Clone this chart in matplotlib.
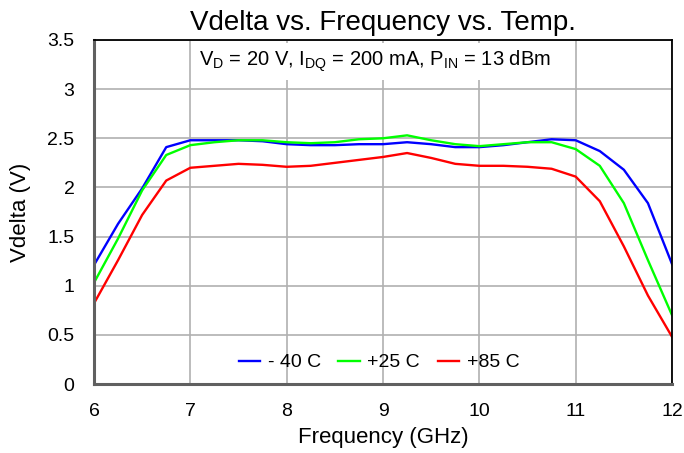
import numpy as np
import matplotlib
matplotlib.use('Agg')
import matplotlib.pyplot as plt

plt.rcParams['font.family'] = ['Liberation Sans', 'DejaVu Sans']
plt.rcParams['mathtext.fontset'] = 'custom'
plt.rcParams['mathtext.rm'] = 'Liberation Sans'

freq = [6, 6.25, 6.5, 6.75, 7, 7.25, 7.5, 7.75, 8, 8.25, 8.5, 8.75, 9,
        9.25, 9.5, 9.75, 10, 10.25, 10.5, 10.75, 11, 11.25, 11.5, 11.75, 12]

vd_m40 = [1.21, 1.63, 1.99, 2.41, 2.48, 2.48, 2.48, 2.47, 2.44, 2.43, 2.43, 2.44, 2.44,
          2.46, 2.44, 2.41, 2.41, 2.43, 2.46, 2.49, 2.48, 2.37, 2.18, 1.84, 1.22]
vd_25 = [1.03, 1.48, 1.97, 2.33, 2.43, 2.46, 2.48, 2.48, 2.46, 2.45, 2.46, 2.49, 2.50,
         2.53, 2.48, 2.44, 2.42, 2.44, 2.46, 2.46, 2.39, 2.22, 1.84, 1.26, 0.70]
vd_85 = [0.82, 1.26, 1.72, 2.07, 2.20, 2.22, 2.24, 2.23, 2.21, 2.22, 2.25, 2.28, 2.31,
         2.35, 2.30, 2.24, 2.22, 2.22, 2.21, 2.19, 2.11, 1.86, 1.40, 0.90, 0.48]

labels = ['- 40 C', '+25 C', '+85 C']
colors = ['#0000ff', '#00ff00', '#ff0000']

fig = plt.figure(figsize=(6.84, 4.53), dpi=100)
ax = fig.add_axes([0.1374, 0.1523, 0.8451, 0.7594])

for y, lab, c in zip([vd_m40, vd_25, vd_85], labels, colors):
    ax.plot(freq, y, color=c, lw=1.7, label=lab)

ax.set_xlim(6, 12)
ax.set_ylim(0, 3.5)
ax.set_xticks(np.arange(6, 13, 1))
ax.set_yticks(np.arange(0, 3.6, 0.5))
ax.set_yticklabels(['0', '0.5', '1', '1.5', '2', '2.5', '3', '3.5'])
ax.grid(True, color='#b0b0b0', lw=1.2)
ax.set_axisbelow(True)
ax.tick_params(length=0, labelsize=14, pad=14)

for s in ['top', 'right']:
    ax.spines[s].set_color('black')
    ax.spines[s].set_linewidth(1.3)
for s in ['left', 'bottom']:
    ax.spines[s].set_color('#606060')
    ax.spines[s].set_linewidth(2.2)

ax.set_title('Vdelta vs. Frequency vs. Temp.', fontsize=20, pad=7)
ax.set_xlabel('Frequency (GHz)', fontsize=16, labelpad=5)
ax.set_ylabel('Vdelta (V)', fontsize=16, labelpad=12)

ax.text(8.92, 3.28, r'V$_\mathrm{D}$ = 20 V, I$_\mathrm{DQ}$ = 200 mA, P$_\mathrm{IN}$ = 13 dBm',
        ha='center', va='center', fontsize=14.5,
        bbox=dict(facecolor='white', edgecolor='none', pad=4))

ax.legend(loc='center', bbox_to_anchor=(0.493, 0.062), ncol=3, frameon=False,
          fontsize=14, handlelength=1.1, columnspacing=0.9, handletextpad=0.4,
          borderpad=0)

fig.savefig('out.png', dpi=100)
